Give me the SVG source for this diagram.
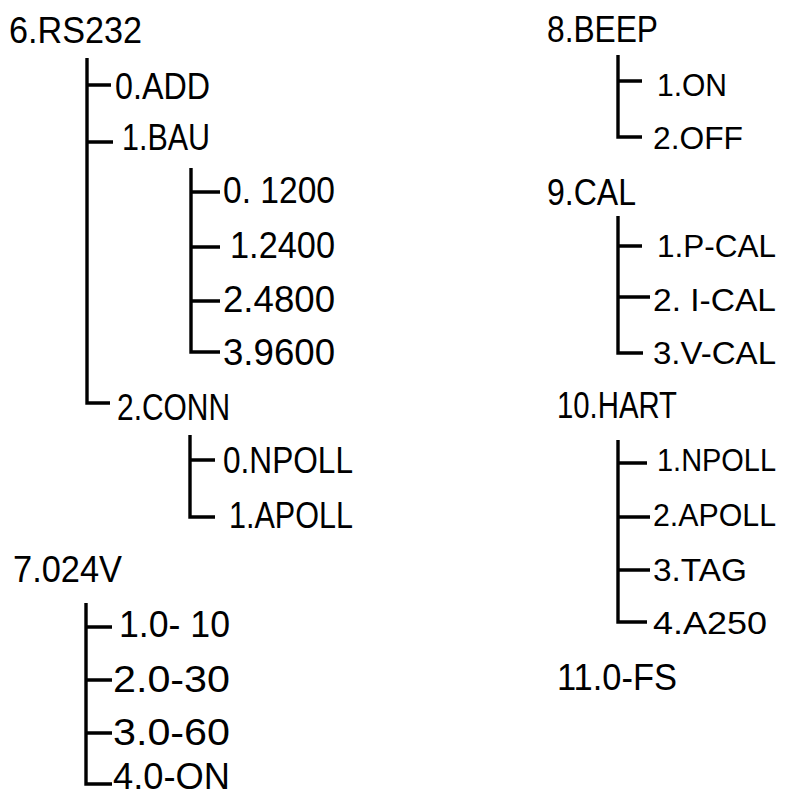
<svg xmlns="http://www.w3.org/2000/svg" width="787" height="798" viewBox="0 0 787 798">
<style>
  text { font-family: "Liberation Sans", "DejaVu Sans", sans-serif; font-size: 36px; fill: #000; }
  text.r { font-size: 32px; }
  .c { fill: none; stroke: #000; stroke-width: 3.4; stroke-linejoin: miter; stroke-linecap: butt; }
</style>
<rect width="787" height="798" fill="#fff"/>
<g id="connectors">
  <path class="c" d="M87 58 V403 H110 M87 85 H111 M87 142 H113"/>
  <path class="c" d="M191 168 V352 H220 M191 192 H220 M191 247 H220 M191 301 H220"/>
  <path class="c" d="M190 435 V517 H215 M190 460 H215"/>
  <path class="c" d="M86 603 V784 H112 M86 627 H112 M86 680 H112 M86 733 H112"/>
  <path class="c" d="M618 55 V137 H642 M618 81 H642"/>
  <path class="c" d="M618 216 V353 H643 M618 246 H642 M618 297 H650"/>
  <path class="c" d="M618 440 V622 H647 M618 463 H647 M618 517 H650 M618 570 H650"/>
</g>
<g id="n6"><text x="9" y="43" textLength="133" lengthAdjust="spacingAndGlyphs">6.RS232</text></g>
<g id="n6-0"><text x="115" y="99" textLength="95" lengthAdjust="spacingAndGlyphs">0.ADD</text></g>
<g id="n6-1"><text x="122" y="150" textLength="88" lengthAdjust="spacingAndGlyphs">1.BAU</text></g>
<g id="n6-1-0"><text x="223" y="203" textLength="112" lengthAdjust="spacingAndGlyphs">0. 1200</text></g>
<g id="n6-1-1"><text x="230" y="258" textLength="105" lengthAdjust="spacingAndGlyphs">1.2400</text></g>
<g id="n6-1-2"><text x="223" y="312" textLength="112" lengthAdjust="spacingAndGlyphs">2.4800</text></g>
<g id="n6-1-3"><text x="223" y="365" textLength="112" lengthAdjust="spacingAndGlyphs">3.9600</text></g>
<g id="n6-2"><text x="117" y="420" textLength="113" lengthAdjust="spacingAndGlyphs">2.CONN</text></g>
<g id="n6-2-0"><text x="223" y="473" textLength="130" lengthAdjust="spacingAndGlyphs">0.NPOLL</text></g>
<g id="n6-2-1"><text x="229" y="528" textLength="124" lengthAdjust="spacingAndGlyphs">1.APOLL</text></g>
<g id="n7"><text x="13" y="582" textLength="109" lengthAdjust="spacingAndGlyphs">7.024V</text></g>
<g id="n7-1"><text x="119" y="637" textLength="111" lengthAdjust="spacingAndGlyphs">1.0- 10</text></g>
<g id="n7-2"><text x="113" y="692" textLength="117" lengthAdjust="spacingAndGlyphs">2.0-30</text></g>
<g id="n7-3"><text x="113" y="745" textLength="117" lengthAdjust="spacingAndGlyphs">3.0-60</text></g>
<g id="n7-4"><text x="113" y="789" textLength="117" lengthAdjust="spacingAndGlyphs">4.0-ON</text></g>
<g id="n8"><text x="547" y="42" textLength="111" lengthAdjust="spacingAndGlyphs">8.BEEP</text></g>
<g id="n8-1"><text class="r" x="657" y="96" textLength="70" lengthAdjust="spacingAndGlyphs">1.ON</text></g>
<g id="n8-2"><text class="r" x="653" y="149" textLength="90" lengthAdjust="spacingAndGlyphs">2.OFF</text></g>
<g id="n9"><text x="547" y="205" textLength="89" lengthAdjust="spacingAndGlyphs">9.CAL</text></g>
<g id="n9-1"><text class="r" x="657" y="257" textLength="119" lengthAdjust="spacingAndGlyphs">1.P-CAL</text></g>
<g id="n9-2"><text class="r" x="653" y="311" textLength="123" lengthAdjust="spacingAndGlyphs">2. I-CAL</text></g>
<g id="n9-3"><text class="r" x="653" y="364" textLength="123" lengthAdjust="spacingAndGlyphs">3.V-CAL</text></g>
<g id="n10"><text x="557" y="418" textLength="120" lengthAdjust="spacingAndGlyphs">10.HART</text></g>
<g id="n10-1"><text class="r" x="657" y="471" style="font-size:31px" textLength="119" lengthAdjust="spacingAndGlyphs">1.NPOLL</text></g>
<g id="n10-2"><text class="r" x="653" y="526" textLength="123" lengthAdjust="spacingAndGlyphs">2.APOLL</text></g>
<g id="n10-3"><text class="r" x="653" y="581" textLength="94" lengthAdjust="spacingAndGlyphs">3.TAG</text></g>
<g id="n10-4"><text class="r" x="653" y="634" textLength="114" lengthAdjust="spacingAndGlyphs">4.A250</text></g>
<g id="n11"><text x="557" y="690" textLength="120" lengthAdjust="spacingAndGlyphs">11.0-FS</text></g>
</svg>
